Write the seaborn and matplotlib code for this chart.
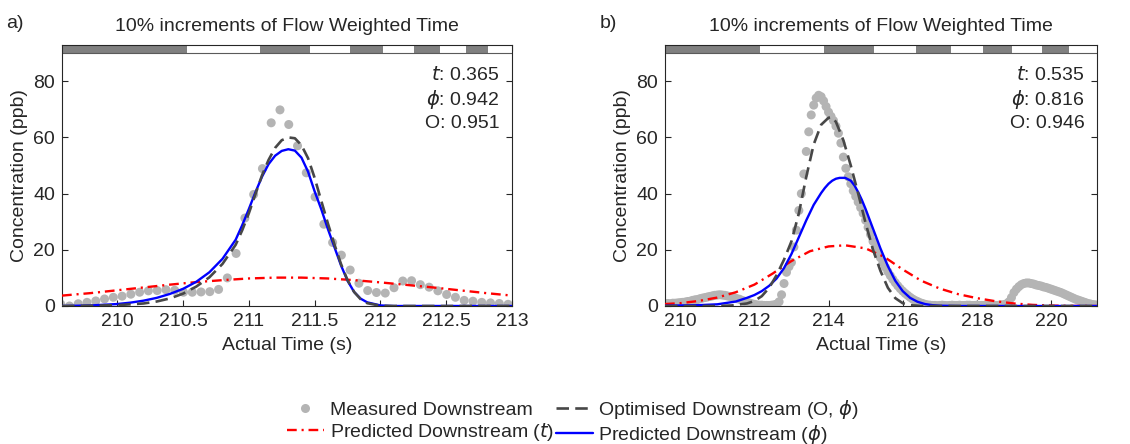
import numpy as np
import matplotlib
matplotlib.use("Agg")
import matplotlib.pyplot as plt
import seaborn as sns
from matplotlib.lines import Line2D

# ---------------- data: panel a ----------------
a_t0 = 209.57
a_dt = 1 / 15
a_measured = [0.7, 0.0, 0.8, 1.3, 1.8, 2.5, 3.1, 3.5, 4.2, 4.9,
              5.4, 5.5, 5.8, 5.6, 4.9, 4.9, 5.0, 5.1, 5.9, 10.0,
              18.7, 31.3, 39.7, 48.9, 65.2, 69.8, 64.6, 57.0, 47.4, 38.8,
              29.1, 22.6, 18.1, 12.8, 8.1, 5.5, 4.8, 4.6, 6.5, 8.9,
              9.0, 7.6, 6.7, 5.4, 4.1, 3.1, 2.0, 1.7, 1.3, 1.1,
              0.9, 0.6]

a_red_x = [209.58, 209.8, 210.0, 210.2, 210.4, 210.6, 210.8, 211.0, 211.2,
           211.4, 211.6, 211.8, 212.0, 212.2, 212.4, 212.6, 212.8, 213.0]
a_red_y = [3.7, 4.6, 5.6, 6.6, 7.6, 8.5, 9.2, 9.8, 10.1,
           10.1, 9.8, 9.2, 8.4, 7.5, 6.6, 5.6, 4.6, 3.7]

a_blue_x = [209.58, 209.8, 210.0, 210.1, 210.2, 210.3, 210.4, 210.5, 210.6,
            210.7, 210.8, 210.9, 210.95, 211.0, 211.05, 211.1, 211.15, 211.2,
            211.25, 211.3, 211.35, 211.4, 211.45, 211.5, 211.55, 211.6, 211.65,
            211.7, 211.75, 211.8, 211.85, 211.9, 212.0, 212.1, 213.0]
a_blue_y = [0.0, 0.2, 0.7, 1.2, 1.9, 2.9, 4.3, 6.1, 8.6,
            12.0, 16.8, 23.6, 28.8, 34.5, 40.5, 46.0, 50.5, 53.5,
            55.2, 55.8, 55.3, 52.8, 47.8, 40.8, 34.5, 27.5, 21.0,
            14.5, 9.0, 5.0, 2.6, 1.3, 0.2, 0.0, 0.0]

a_opt_x = [209.58, 209.8, 210.0, 210.2, 210.3, 210.4, 210.5, 210.6, 210.7,
           210.8, 210.9, 210.95, 211.0, 211.05, 211.1, 211.15, 211.2, 211.25,
           211.3, 211.35, 211.4, 211.45, 211.5, 211.55, 211.6, 211.65, 211.7,
           211.75, 211.8, 211.85, 211.9, 212.0, 212.1, 213.0]
a_opt_y = [0.0, 0.1, 0.3, 0.9, 1.6, 2.7, 4.4, 6.9, 10.2,
           15.0, 21.8, 27.0, 33.0, 39.8, 46.5, 52.0, 56.3, 59.0,
           60.0, 59.7, 57.2, 52.6, 45.6, 37.5, 29.5, 22.0, 15.0,
           9.2, 5.0, 2.4, 1.0, 0.1, 0.0, 0.0]

a_strip_edges = [209.58, 210.533, 211.081, 211.465, 211.769, 212.021,
                 212.254, 212.452, 212.651, 212.82, 213.0]
a_xticks = [210, 210.5, 211, 211.5, 212, 212.5, 213]
a_xticklabels = ["210", "210.5", "211", "211.5", "212", "212.5", "213"]
a_scores = [r"$t$: 0.365", r"$\phi$: 0.942", "O: 0.951"]

# ---------------- data: panel b ----------------
b_t0 = 209.60
b_dt = 1 / 15
b_measured = [0.8, 0.9, 0.8, 1.0, 1.0, 1.1, 1.2, 1.3, 1.4, 1.6,
              1.7, 2.0, 2.2, 2.3, 2.6, 2.8, 3.0, 3.2, 3.4, 3.6,
              3.8, 3.9, 4.0, 3.9, 3.8, 3.6, 3.4, 3.2, 2.9, 2.6,
              2.4, 2.0, 1.7, 1.4, 1.1, 0.8, 0.6, 0.4, 0.3, 0.3,
              0.2, 0.2, 0.2, 0.3, 0.4, 0.7, 1.5, 4.0, 8.0, 12.0,
              14.0, 15.5, 21.0, 27.0, 34.0, 40.0, 47.0, 55.0, 62.0, 68.0,
              71.5, 74.0, 75.0, 74.5, 73.0, 71.0, 69.0, 67.5, 66.0, 64.0,
              61.5, 58.0, 53.0, 49.0, 46.0, 43.5, 41.0, 39.0, 37.0, 35.0,
              33.0, 30.5, 28.0, 25.5, 23.0, 21.0, 19.0, 17.2, 15.5, 13.8,
              12.2, 10.8, 9.5, 8.3, 7.2, 6.2, 5.3, 4.5, 3.8, 3.1,
              2.5, 2.0, 1.6, 1.2, 0.9, 0.6, 0.4, 0.3, 0.2, 0.2,
              0.1, 0.2, 0.3, 0.2, 0.1, 0.2, 0.3, 0.2, 0.2, 0.3,
              0.2, 0.2, 0.3, 0.3, 0.2, 0.2, 0.3, 0.2, 0.2, 0.2,
              0.3, 0.2, 0.2, 0.3, 0.2, 0.3, 0.4, 0.5, 0.8, 1.5,
              3.0, 4.8, 6.0, 6.9, 7.6, 8.0, 8.2, 8.2, 8.0, 7.8,
              7.5, 7.3, 7.1, 6.8, 6.6, 6.3, 6.0, 5.7, 5.4, 5.1,
              4.8, 4.4, 4.0, 3.6, 3.2, 2.8, 2.4, 2.1, 1.8, 1.5,
              1.2, 0.9, 0.7, 0.5, 0.4]

b_red_x = [209.59, 210.0, 210.5, 211.0, 211.5, 212.0, 212.5, 212.8, 213.0,
           213.5, 214.0, 214.45, 215.0, 215.5, 216.0, 216.5, 217.0, 217.5,
           218.0, 218.5, 219.0, 219.5, 220.0, 220.5, 221.24]
b_red_y = [0.7, 1.0, 1.8, 3.0, 4.9, 7.6, 11.6, 14.3, 16.0,
           19.5, 21.2, 21.6, 20.5, 17.5, 13.0, 9.0, 6.2, 4.2,
           2.8, 1.7, 0.9, 0.4, 0.15, 0.05, 0.0]

b_blue_x = [209.59, 210.0, 210.5, 211.0, 211.5, 211.8, 212.0, 212.2, 212.4,
            212.6, 212.8, 213.0, 213.2, 213.4, 213.6, 213.8, 213.9, 214.0,
            214.1, 214.2, 214.3, 214.45, 214.6, 214.7, 214.8, 214.9, 215.0,
            215.2, 215.4, 215.6, 215.8, 216.0, 216.2, 216.4, 216.6, 216.8,
            217.0, 217.5, 221.24]
b_blue_y = [0.1, 0.2, 0.3, 0.6, 1.6, 2.9, 3.9, 5.3, 7.2,
            9.8, 13.5, 18.5, 24.5, 30.5, 36.0, 40.2, 42.0, 43.5,
            44.6, 45.3, 45.6, 45.6, 44.6, 42.9, 40.5, 37.7, 34.5,
            27.5, 20.5, 14.2, 9.0, 5.3, 2.9, 1.5, 0.7, 0.3,
            0.1, 0.0, 0.0]

b_opt_x = [209.59, 211.0, 211.4, 211.8, 212.0, 212.2, 212.4, 212.6, 212.8,
           213.0, 213.2, 213.4, 213.6, 213.8, 214.0, 214.1, 214.2, 214.4,
           214.6, 214.8, 215.0, 215.2, 215.4, 215.6, 215.8, 216.0, 216.2,
           216.5, 221.24]
b_opt_y = [0.0, 0.0, 0.2, 0.9, 1.8, 3.5, 6.5, 11.0, 16.5,
           23.0, 33.0, 46.0, 57.5, 64.5, 67.0, 67.2, 65.5, 59.0,
           50.0, 40.0, 29.5, 20.0, 12.5, 6.5, 2.8, 1.0, 0.3,
           0.0, 0.0]

b_strip_edges = [209.59, 212.14, 213.87, 215.23, 216.35, 217.30,
                 218.17, 218.96, 219.77, 220.49, 221.24]
b_xticks = [210, 212, 214, 216, 218, 220]
b_xticklabels = ["210", "212", "214", "216", "218", "220"]
b_scores = [r"$t$: 0.535", r"$\phi$: 0.816", "O: 0.946"]

title_text = "10% increments of Flow Weighted Time"
ylabel_text = "Concentration (ppb)"
xlabel_text = "Actual Time (s)"
legend_labels = ["Measured Downstream", r"Predicted Downstream ($t$)",
                 r"Optimised Downstream (O, $\phi$)", r"Predicted Downstream ($\phi$)"]

# ---------------- style ----------------
sns.set_theme(style="ticks")
plt.rcParams['font.family'] = ['Liberation Sans', 'DejaVu Sans']
plt.rcParams['mathtext.fontset'] = 'dejavusans'
plt.rcParams['lines.scale_dashes'] = False

GREY = "#b4b4b4"
DARK = "#474747"
RED = "#ff0000"
BLUE = "#0000ff"
AXC = "#262626"
STRIP_DARK = "#808080"
FS = 14

RED_LS = (0, (7, 3.5, 1.5, 3.5))
OPT_LS = (0, (9, 4.5))

fig = plt.figure(figsize=(11.3, 4.44), dpi=100)
W, H = 1130, 444
top_px, bot_px = 44.7, 306
ax_a = fig.add_axes([62 / W, 1 - bot_px / H, 450 / W, (bot_px - top_px) / H])
ax_b = fig.add_axes([665 / W, 1 - bot_px / H, 432 / W, (bot_px - top_px) / H])


def draw(ax, t0, dt, meas, red, blue, opt, edges, xticks, xticklabels, scores):
    t = t0 + dt * np.arange(len(meas))
    sns.scatterplot(x=t, y=meas, ax=ax, color=GREY, s=42, linewidth=0,
                    edgecolor="none", zorder=2, legend=False)
    sns.lineplot(x=red[0], y=red[1], ax=ax, color=RED, linewidth=1.7,
                 linestyle=RED_LS, zorder=3, legend=False, errorbar=None)
    sns.lineplot(x=blue[0], y=blue[1], ax=ax, color=BLUE, linewidth=1.7,
                 zorder=4, legend=False, errorbar=None)
    sns.lineplot(x=opt[0], y=opt[1], ax=ax, color=DARK, linewidth=1.9,
                 linestyle=OPT_LS, zorder=5, legend=False, errorbar=None)
    # flow-weighted time strip
    lefts = edges[:-1]
    widths = [edges[i + 1] - edges[i] for i in range(len(edges) - 1)]
    cols = [STRIP_DARK if i % 2 == 0 else "white" for i in range(len(lefts))]
    ax.bar(lefts, [3.0] * len(lefts), width=widths, bottom=90, align="edge",
           color=cols, linewidth=0, zorder=1)
    ax.axhline(90, color="#5a5a5a", lw=0.8, zorder=1.5)
    ax.set_xlim(edges[0], edges[-1])
    ax.set_ylim(0, 93)
    ax.set_xticks(xticks)
    ax.set_xticklabels(xticklabels)
    ax.set_yticks([0, 20, 40, 60, 80])
    ax.tick_params(direction="in", length=4, width=0.8, top=True, right=True,
                   labelsize=FS, pad=5, color=AXC, labelcolor=AXC)
    for sp in ax.spines.values():
        sp.set_color(AXC)
        sp.set_linewidth(0.8)
    ax.set_title(title_text, fontsize=FS, pad=10, color=AXC)
    ax.set_xlabel(xlabel_text, fontsize=FS, color=AXC, labelpad=5)
    ax.set_ylabel(ylabel_text, fontsize=FS, color=AXC, labelpad=4)
    for txt, yy in zip(scores, [0.884, 0.792, 0.700]):
        ax.text(0.972, yy, txt, transform=ax.transAxes, ha="right", va="center",
                fontsize=FS, color=AXC)


draw(ax_a, a_t0, a_dt, a_measured, (a_red_x, a_red_y), (a_blue_x, a_blue_y),
     (a_opt_x, a_opt_y), a_strip_edges, a_xticks, a_xticklabels, a_scores)
draw(ax_b, b_t0, b_dt, b_measured, (b_red_x, b_red_y), (b_blue_x, b_blue_y),
     (b_opt_x, b_opt_y), b_strip_edges, b_xticks, b_xticklabels, b_scores)

fig.text(6 / W, 1 - 24 / H, "a)", fontsize=FS, ha="left", va="center", color=AXC)
fig.text(600 / W, 1 - 24 / H, "b)", fontsize=FS, ha="left", va="center", color=AXC)

handles = [Line2D([], [], ls="none", marker="o", markersize=6.5, color=GREY,
                  markeredgewidth=0),
           Line2D([], [], color=RED, lw=1.7, ls=RED_LS),
           Line2D([], [], color=DARK, lw=1.9, ls=OPT_LS),
           Line2D([], [], color=BLUE, lw=1.7)]
fig.legend(handles, legend_labels, ncol=2, loc="center",
           bbox_to_anchor=(573 / W, 1 - 422 / H), frameon=False, fontsize=FS,
           handlelength=1.9, handletextpad=0.3, columnspacing=0.1,
           labelspacing=0.1, labelcolor=AXC)

fig.savefig("out.png", dpi=100)
